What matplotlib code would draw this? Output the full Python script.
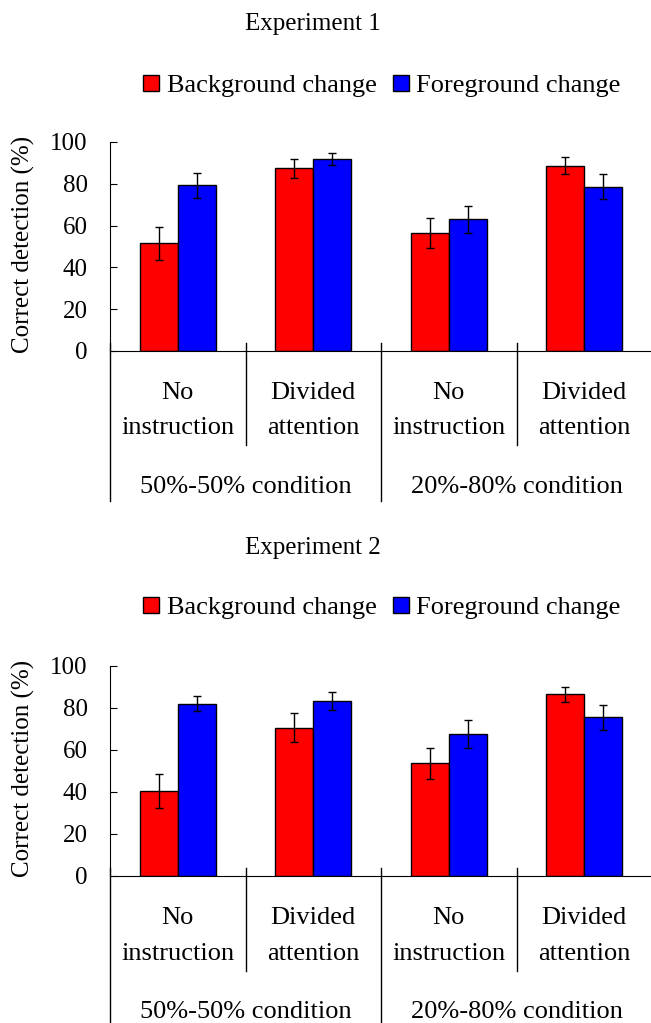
import matplotlib.pyplot as plt
from matplotlib.transforms import blended_transform_factory
from matplotlib.patches import Patch

plt.rcParams['font.family'] = ['Liberation Serif', 'DejaVu Serif']

sub_labels = [("No", "instruction"), ("Divided", "attention"),
              ("No", "instruction"), ("Divided", "attention")]
group_labels = ["50%-50% condition", "20%-80% condition"]
series_names = ["Background change", "Foreground change"]
colors = ["#ff0000", "#0000ff"]

exp1_bg = [51.5, 87.4, 56.3, 88.7]
exp1_bg_err = [8.0, 4.5, 7.2, 4.0]
exp1_fg = [79.4, 91.9, 63.0, 78.6]
exp1_fg_err = [6.0, 2.7, 6.4, 6.0]

exp2_bg = [40.6, 70.7, 53.6, 86.5]
exp2_bg_err = [8.0, 6.7, 7.4, 3.5]
exp2_fg = [82.1, 83.4, 67.5, 75.5]
exp2_fg_err = [3.6, 4.4, 6.7, 6.0]

W, H = 651, 1023
fig = plt.figure(figsize=(W / 100, H / 100), dpi=100)


def panel(ax, title, bg, bg_err, fg, fg_err, title_y, legend_y, long_end):
    x = list(range(len(bg)))
    w = 0.28
    ax.bar([i - w / 2 for i in x], bg, w, yerr=bg_err, color=colors[0],
           edgecolor='black', linewidth=1, capsize=3,
           error_kw=dict(elinewidth=1, capthick=1), zorder=2)
    ax.bar([i + w / 2 for i in x], fg, w, yerr=fg_err, color=colors[1],
           edgecolor='black', linewidth=1, capsize=3,
           error_kw=dict(elinewidth=1, capthick=1), zorder=2)
    ax.set_xlim(-0.5, 3.5)
    ax.set_ylim(0, 100)
    ax.set_yticks(range(0, 101, 20))
    ax.tick_params(axis='y', labelsize=18, length=5, direction='in', pad=16)
    ax.set_xticks([])
    for s in ['top', 'right']:
        ax.spines[s].set_visible(False)
    ax.spines['left'].set_bounds(0, 100)
    ax.set_ylabel("Correct detection (%)", fontsize=18)
    ax.yaxis.set_label_coords(-0.138, 0.51)

    tr = blended_transform_factory(ax.transData, ax.transAxes)
    for xs in [0.5, 2.5]:
        ax.plot([xs, xs], [0.038, -0.45], transform=tr, color='black',
                lw=1, clip_on=False)
    for xs in [-0.5, 1.5]:
        ax.plot([xs, xs], [0.038, long_end], transform=tr, color='black',
                lw=1, clip_on=False)
    for i, (a, b) in enumerate(sub_labels):
        ax.text(i, -0.2, a, transform=tr, ha='center', va='center', fontsize=19)
        ax.text(i, -0.37, b, transform=tr, ha='center', va='center', fontsize=19)
    for j, g in enumerate(group_labels):
        ax.text(0.5 + 2 * j, -0.65, g, transform=tr, ha='center', va='center',
                fontsize=19)

    fig.text(313 / W, 1 - title_y / H, title, ha='center', va='center',
             fontsize=18)
    handles = [Patch(facecolor=c, edgecolor='black') for c in colors]
    fig.legend(handles, series_names, loc='center',
               bbox_to_anchor=(382 / W, 1 - legend_y / H), ncol=2,
               frameon=False, fontsize=19, handlelength=0.6, handleheight=0.6,
               handletextpad=0.3, columnspacing=0.6, borderpad=0)


ax1 = fig.add_axes([110 / W, 1 - 351 / H, 542 / W, 209 / H])
panel(ax1, "Experiment 1", exp1_bg, exp1_bg_err, exp1_fg, exp1_fg_err,
      24, 86, -0.72)
ax2 = fig.add_axes([110 / W, 1 - 876 / H, 542 / W, 210 / H])
panel(ax2, "Experiment 2", exp2_bg, exp2_bg_err, exp2_fg, exp2_fg_err,
      548, 608, -0.72)

fig.savefig("out.png", dpi=100)
